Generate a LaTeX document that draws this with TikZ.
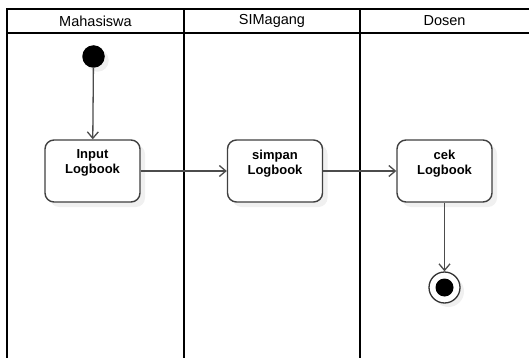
\documentclass[tikz,border=0pt]{standalone}
\usepackage{fontspec}
\setmainfont{Liberation Sans}
\usepackage{tikz}
\usetikzlibrary{arrows.meta,shadows}
\tikzset{>={Straight Barb[length=6.5pt,width=11pt]}}
\tikzset{
  lane/.style={line width=2pt, black},
  act/.style={draw=black!75, line width=1.4pt, rounded corners=9pt, fill=white,
    minimum width=95pt, minimum height=62pt,
    drop shadow={opacity=0.12, shadow xshift=5pt, shadow yshift=-5pt}},
  acttext/.style={font=\fontsize{13}{15}\selectfont\bfseries, align=center},
  flow/.style={->, draw=black!70, line width=1.3pt}
}

\begin{document}
\begin{tikzpicture}[x=1pt,y=-1pt]
\useasboundingbox (0,0) rectangle (529,358);

% swimlanes
\draw[lane] (530,9)--(7,9)--(7,359);
\draw[lane] (7,33)--(530,33);
\draw[lane] (184,9)--(184,359);
\draw[lane] (360,9)--(360,359);
\node[font=\fontsize{14.5}{17}\selectfont] (hMhs) at (95.5,21) {Mahasiswa};
\node[font=\fontsize{14.5}{17}\selectfont] (hSim) at (272,21) {SIMagang};
\node[font=\fontsize{14.5}{17}\selectfont] (hDsn) at (444.5,21) {Dosen};

% activities
\node[fill, circle, inner sep=0pt, minimum size=22.5pt,
  drop shadow={opacity=0.12, shadow xshift=4pt, shadow yshift=-4pt}] (start) at (93.5,56.5) {};
\node[act, label={[acttext, anchor=north, yshift=-7pt]north:Input\\Logbook}] (input) at (92.5,171) {};
\node[act, label={[acttext, anchor=north, yshift=-7pt]north:simpan\\Logbook}] (simpan) at (275,171) {};
\node[act, label={[acttext, anchor=north, yshift=-7pt]north:cek\\Logbook}] (cek) at (444.5,171) {};
\node[draw=black!80, line width=1.3pt, circle, inner sep=0pt, minimum size=31pt, fill=white,
  drop shadow={opacity=0.12, shadow xshift=4pt, shadow yshift=-4pt}] (finish) at (444.5,287.5) {};
\node[fill, circle, inner sep=0pt, minimum size=18pt] (finishdot) at (finish) {};

% transitions
\draw[flow] (start) -- (input);
\draw[flow] (input) -- (simpan);
\draw[flow] (simpan) -- (cek);
\draw[flow] (cek) -- (finish);
\end{tikzpicture}
\end{document}
